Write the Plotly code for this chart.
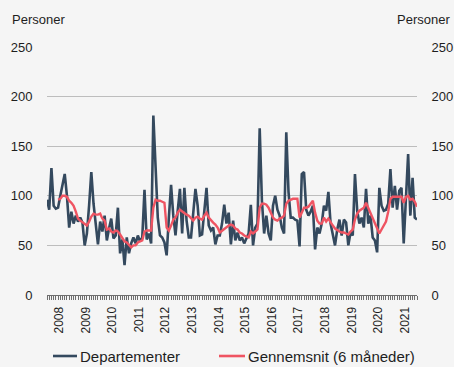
import plotly.graph_objects as go

# Monthly counts, January 2008 - December 2021
years = [str(y) for y in range(2008, 2022)]

departementer = [
    96, 86, 128, 90, 87, 88, 100, 112, 122, 100,
    68, 84, 72, 80, 74, 78, 73, 50, 62, 90,
    124, 92, 70, 51, 74, 64, 80, 55, 67, 77,
    57, 60, 88, 42, 56, 30, 58, 42, 52, 58,
    52, 60, 54, 58, 106, 56, 62, 52, 181, 130,
    78, 60, 58, 53, 40, 78, 111, 80, 60, 85,
    107, 62, 108, 75, 58, 58, 80, 107, 90, 60,
    61, 85, 108, 70, 65, 68, 51, 60, 60, 72,
    91, 72, 83, 51, 75, 55, 63, 55, 58, 52,
    58, 62, 91, 50, 68, 72, 168, 95, 62, 80,
    62, 55, 90, 100, 86, 80, 68, 62, 164, 104,
    78, 78, 76, 75, 49, 122, 124, 86, 80, 84,
    90, 46, 68, 62, 72, 90, 85, 104, 72, 62,
    50, 66, 76, 60, 76, 73, 50, 63, 60, 122,
    85, 72, 78, 68, 107, 72, 80, 58, 55, 43,
    108, 90, 85, 86, 92, 127, 88, 110, 86, 105,
    108, 52, 98, 142, 80, 118, 78, 76,
]

# 6-month average, first value in June 2008
gennemsnit = [
    96, 97, 100, 100, 99,
    95, 93, 90, 84, 77, 75, 73, 71, 70, 74,
    79, 82, 81, 81, 82, 77, 75, 66, 67, 64,
    63, 65, 64, 61, 58, 54, 53, 50, 48, 50,
    50, 53, 54, 55, 64, 65, 65, 65, 88, 96,
    95, 95, 94, 93, 68, 65, 70, 76, 78, 83,
    86, 84, 83, 81, 80, 78, 75, 78, 79, 77,
    76, 80, 83, 78, 75, 73, 71, 68, 63, 65,
    67, 68, 70, 71, 70, 67, 66, 63, 62, 60,
    59, 58, 64, 62, 64, 66, 88, 92, 92, 91,
    88, 83, 78, 76, 75, 77, 78, 80, 92, 95,
    96, 97, 97, 97, 78, 83, 88, 88, 89, 92,
    95, 83, 75, 72, 72, 78, 74, 77, 73, 70,
    67, 65, 64, 63, 63, 62, 61, 64, 66, 76,
    82, 85, 87, 88, 93, 88, 82, 78, 73, 68,
    62, 66, 70, 74, 84, 97, 99, 99, 99, 99,
    99, 93, 99, 100, 96, 97, 94, 89,
]

months = list(range(len(departementer)))
avg_months = months[len(departementer) - len(gennemsnit):]
year_ticks = [5.5 + 12 * i for i in range(len(years))]

BLUE = "#34495E"
RED = "#EF5462"
BG = "#F5F5F5"
GRID = "#BDBDBD"
TEXT = "#1E1E1E"
FONT = "Liberation Sans, Arial, sans-serif"

# plot area in pixels
L, R, T, B = 47, 417, 47, 295
PW, PH = R - L, B - T


def px(x):
    return (x - L) / PW


def py(y):
    return (B - y) / PH


fig = go.Figure()
fig.add_trace(go.Scatter(
    x=months, y=departementer, mode="lines", name="Departementer",
    line=dict(color=BLUE, width=2.6), showlegend=False,
))
fig.add_trace(go.Scatter(
    x=avg_months, y=gennemsnit, mode="lines", name="Gennemsnit (6 måneder)",
    line=dict(color=RED, width=2.4), showlegend=False,
))
# carrier for the right-hand axis
fig.add_trace(go.Scatter(
    x=months, y=departementer, yaxis="y2", mode="lines",
    line=dict(width=0, color="rgba(0,0,0,0)"), hoverinfo="skip", showlegend=False,
))

yticks = [0, 50, 100, 150, 200, 250]
fig.update_layout(
    width=454, height=367,
    margin=dict(l=L, r=454 - R, t=T, b=367 - B, autoexpand=False),
    paper_bgcolor=BG, plot_bgcolor=BG,
    font=dict(family=FONT, size=13, color=TEXT),
    xaxis=dict(
        range=[0, len(departementer) - 1], automargin=False,
        tickmode="array", tickvals=year_ticks, ticktext=years,
        tickangle=-90, tickfont=dict(size=12),
        ticks="outside", ticklen=6, tickcolor="rgba(0,0,0,0)",
        showgrid=False, zeroline=False,
        showline=True, linecolor="#6E6E6E", linewidth=1,
        minor=dict(ticks="outside", ticklen=4, tickcolor="#6E6E6E",
                   tickmode="linear", tick0=0, dtick=1, showgrid=False),
    ),
    yaxis=dict(
        range=[0, 250], tickmode="array", tickvals=yticks, automargin=False,
        showgrid=True, gridcolor=GRID, gridwidth=1, zeroline=False,
        ticks="outside", ticklen=11, tickcolor="rgba(0,0,0,0)",
    ),
    yaxis2=dict(
        range=[0, 250], tickmode="array", tickvals=yticks, automargin=False,
        overlaying="y", side="right", showgrid=False, zeroline=False,
        ticks="outside", ticklen=11, tickcolor="rgba(0,0,0,0)",
    ),
)

# axis titles above the value axes
fig.add_annotation(text="Personer", xref="paper", yref="paper",
                   x=px(10), y=py(20), xanchor="left", yanchor="middle",
                   showarrow=False)
fig.add_annotation(text="Personer", xref="paper", yref="paper",
                   x=px(452), y=py(20), xanchor="right", yanchor="middle",
                   showarrow=False)

# legend
legend_y = py(356)
for name, color, x0, x1 in [("Departementer", BLUE, 53, 77),
                            ("Gennemsnit (6 måneder)", RED, 219, 245)]:
    fig.add_shape(type="line", xref="paper", yref="paper",
                  x0=px(x0), x1=px(x1), y0=legend_y, y1=legend_y,
                  line=dict(color=color, width=2.6))
    fig.add_annotation(text=name, xref="paper", yref="paper",
                       x=px(x1 + 1), y=legend_y, xanchor="left", yanchor="middle",
                       showarrow=False, font=dict(size=15))

fig.write_html("out.html")
